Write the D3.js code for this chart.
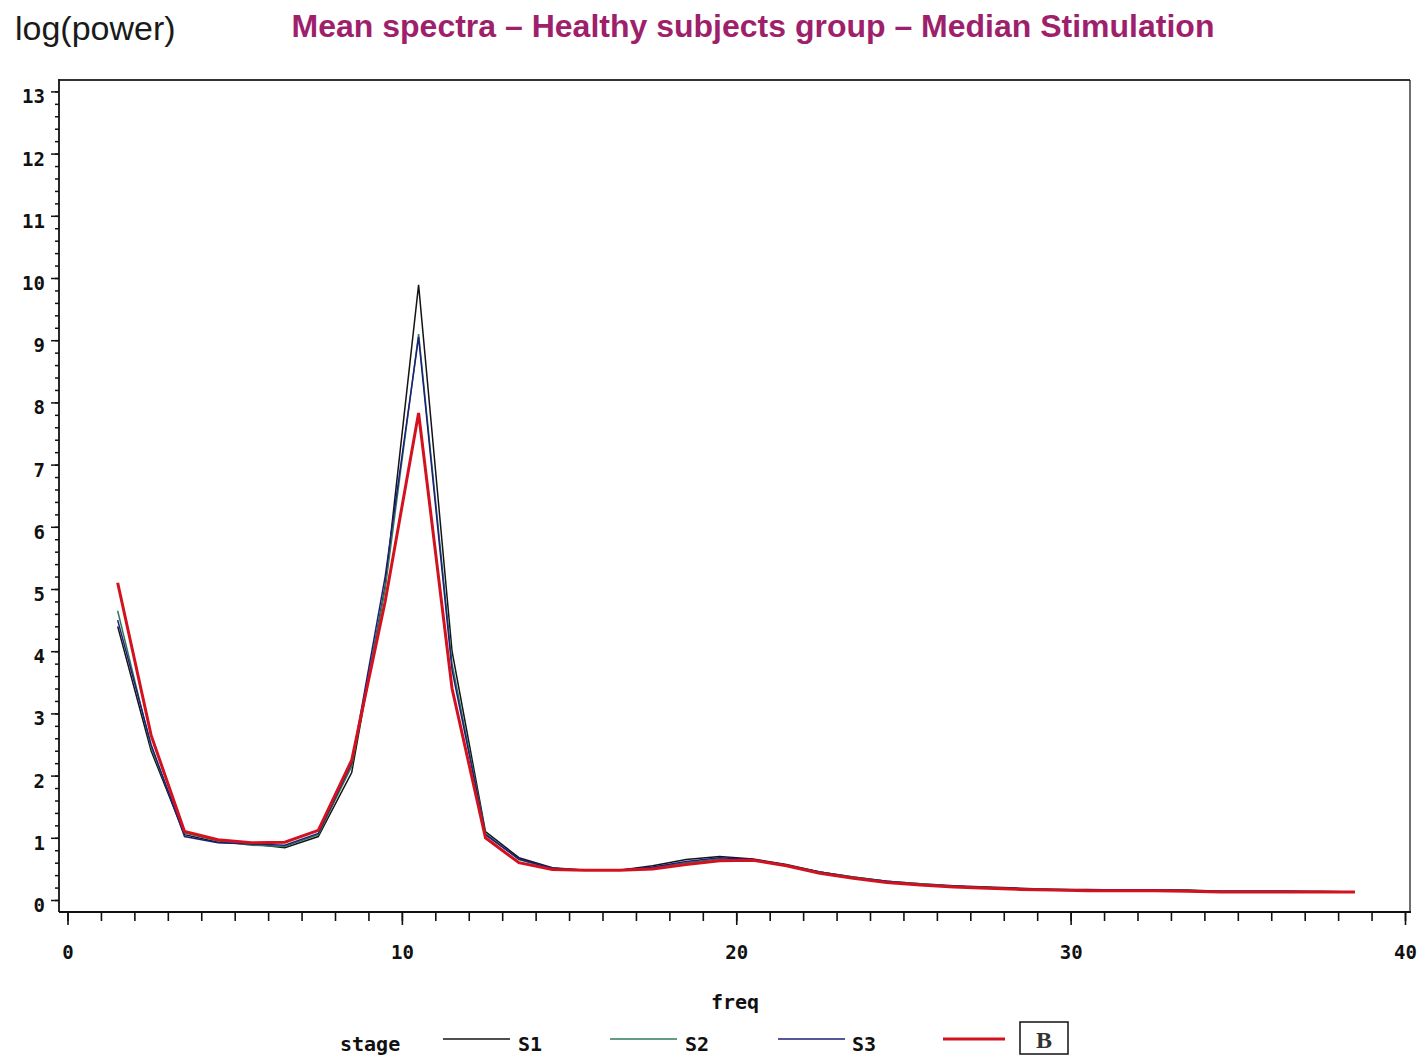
<!DOCTYPE html>
<html><head><meta charset="utf-8">
<script src="https://cdn.jsdelivr.net/npm/d3@7"></script>
<style>html,body{margin:0;padding:0;background:#fff;}</style>
</head><body>
<svg id="c" width="1418" height="1059"></svg>
<script>
const freq = [1.5,2.5,3.5,4.5,5.5,6.5,7.5,8.5,9.5,10.5,11.5,12.5,13.5,14.5,15.5,16.5,17.5,18.5,19.5,20.5,21.5,22.5,23.5,24.5,25.5,26.5,27.5,28.5,29.5,30.5,31.5,32.5,33.5,34.5,35.5,36.5,37.5,38.5];
const s1 = [4.40,2.40,1.05,0.93,0.90,0.84,1.02,2.05,5.05,9.89,4.00,1.10,0.68,0.52,0.48,0.48,0.55,0.65,0.70,0.66,0.57,0.45,0.37,0.30,0.26,0.23,0.21,0.19,0.17,0.17,0.16,0.16,0.16,0.14,0.14,0.14,0.14,0.13];
const s2 = [4.65,2.45,1.08,0.95,0.88,0.86,1.05,2.15,5.00,9.10,3.80,1.07,0.65,0.50,0.48,0.48,0.52,0.60,0.66,0.64,0.56,0.45,0.37,0.30,0.26,0.22,0.20,0.18,0.17,0.16,0.16,0.16,0.15,0.14,0.14,0.14,0.13,0.13];
const s3 = [4.50,2.50,1.02,0.92,0.90,0.88,1.07,2.20,5.20,9.05,3.70,1.05,0.66,0.51,0.48,0.48,0.53,0.62,0.68,0.65,0.56,0.45,0.36,0.30,0.25,0.22,0.20,0.18,0.17,0.16,0.16,0.16,0.15,0.14,0.14,0.14,0.13,0.13];
const sB = [5.10,2.65,1.10,0.97,0.92,0.93,1.12,2.25,4.80,7.83,3.40,1.00,0.60,0.49,0.48,0.48,0.50,0.57,0.63,0.64,0.55,0.43,0.35,0.28,0.24,0.21,0.19,0.17,0.16,0.15,0.15,0.15,0.14,0.13,0.13,0.13,0.13,0.13];
const seriesNames = ["S1","S2","S3","B"];
const xMajor = [0,10,20,30,40];
const yMajor = [0,1,2,3,4,5,6,7,8,9,10,11,12,13];
const titleText = "Mean spectra – Healthy subjects group – Median Stimulation";
const yTitle = "log(power)";
const xTitle = "freq";
const legendTitle = "stage";

const colors = {S1:"#141414", S2:"#2f7a5a", S3:"#1e1e78", B:"#d3121f"};
const widths = {S1:1.5, S2:1.5, S3:1.5, B:3};
const seriesData = {S1:s1, S2:s2, S3:s3, B:sB};

const svg = d3.select("#c");
const x = d3.scaleLinear().domain([0,40]).range([67.5,1405]);
const y = d3.scaleLinear().domain([0,13]).range([900,91.4]);
const L = 59, R = 1410, T = 80, B = 912;
const tickFont = "'DejaVu Sans Mono', monospace";

// Titles
svg.append("text").attr("x",15).attr("y",40).attr("font-family","'Liberation Sans', Arial, sans-serif")
  .attr("font-size",34).attr("fill","#1a1a1a").text(yTitle);
svg.append("text").attr("x",753).attr("y",37).attr("text-anchor","middle")
  .attr("font-family","'Liberation Sans', Arial, sans-serif").attr("font-weight","bold")
  .attr("font-size",32).attr("fill","#9e1f6b").text(titleText);

// Frame
svg.append("line").attr("x1",L).attr("x2",R).attr("y1",T).attr("y2",T).attr("stroke","#333").attr("stroke-width",2.2);
svg.append("line").attr("x1",R).attr("x2",R).attr("y1",T).attr("y2",B).attr("stroke","#222").attr("stroke-width",1.3);

// Y axis
const yMinor = d3.range(0,13.001,0.2);
const gyMin = svg.append("g").attr("transform",`translate(${L},0)`)
  .call(d3.axisLeft(y).tickValues(yMinor).tickSize(4).tickFormat(""));
gyMin.select(".domain").remove();
const gy = svg.append("g").attr("transform",`translate(${L},0)`)
  .call(d3.axisLeft(y).tickValues(yMajor).tickSize(8).tickPadding(6).tickFormat(d3.format("d")));
gy.select(".domain").remove();
gy.selectAll("text").attr("font-family",tickFont).attr("font-weight","bold").attr("font-size",19)
  .attr("fill","#111").attr("dy","0.6em");
svg.selectAll("g line").attr("stroke","#111").attr("stroke-width",1.5);
svg.append("line").attr("x1",L).attr("x2",L).attr("y1",T-1).attr("y2",B).attr("stroke","#111").attr("stroke-width",1.8);

// X axis
const xMinor = d3.range(0,40.001,1);
const gxMin = svg.append("g").attr("transform",`translate(0,${B})`)
  .call(d3.axisBottom(x).tickValues(xMinor).tickSize(9).tickFormat(""));
gxMin.select(".domain").remove();
const gx = svg.append("g").attr("transform",`translate(0,${B})`)
  .call(d3.axisBottom(x).tickValues(xMajor).tickSize(13).tickPadding(21).tickFormat(d3.format("d")));
gx.select(".domain").remove();
gx.selectAll("text").attr("font-family",tickFont).attr("font-weight","bold").attr("font-size",19).attr("fill","#111");
gxMin.selectAll("line").attr("stroke","#111").attr("stroke-width",1.6);
gx.selectAll("line").attr("stroke","#111").attr("stroke-width",1.6);
svg.append("line").attr("x1",L).attr("x2",R+1).attr("y1",B).attr("y2",B).attr("stroke","#111").attr("stroke-width",1.8);

svg.append("text").attr("x",735).attr("y",1009).attr("text-anchor","middle")
  .attr("font-family",tickFont).attr("font-weight","bold").attr("font-size",20).attr("fill","#111").text(xTitle);

// Lines
const line = d3.line().x((d,i)=>x(freq[i])).y(d=>y(d));
seriesNames.forEach(n=>{
  svg.append("path").datum(seriesData[n]).attr("d",line).attr("fill","none")
    .attr("stroke",colors[n]).attr("stroke-width",widths[n]).attr("stroke-linejoin","miter");
});

// Legend
const lg = svg.append("g");
lg.append("text").attr("x",340).attr("y",1051).attr("font-family",tickFont).attr("font-weight","bold")
  .attr("font-size",20).attr("fill","#111").text(legendTitle);
const legendPos = [{n:"S1",x1:443,x2:510,tx:518},{n:"S2",x1:610,x2:677,tx:685},{n:"S3",x1:778,x2:845,tx:852},{n:"B",x1:943,x2:1005,tx:null}];
legendPos.forEach(p=>{
  lg.append("line").attr("x1",p.x1).attr("x2",p.x2).attr("y1",1039).attr("y2",1039)
    .attr("stroke",colors[p.n]).attr("stroke-width",widths[p.n]);
  if(p.tx!==null){
    lg.append("text").attr("x",p.tx).attr("y",1051).attr("font-family",tickFont).attr("font-weight","bold")
      .attr("font-size",20).attr("fill","#111").text(p.n);
  }
});
lg.append("rect").attr("x",1020).attr("y",1022).attr("width",48).attr("height",32)
  .attr("fill","#fff").attr("stroke","#111").attr("stroke-width",1.5);
lg.append("text").attr("x",1044).attr("y",1048).attr("text-anchor","middle")
  .attr("font-family","'Liberation Serif', 'Times New Roman', serif").attr("font-weight","bold")
  .attr("font-size",24).attr("fill","#333").text("B");
</script>
</body></html>
